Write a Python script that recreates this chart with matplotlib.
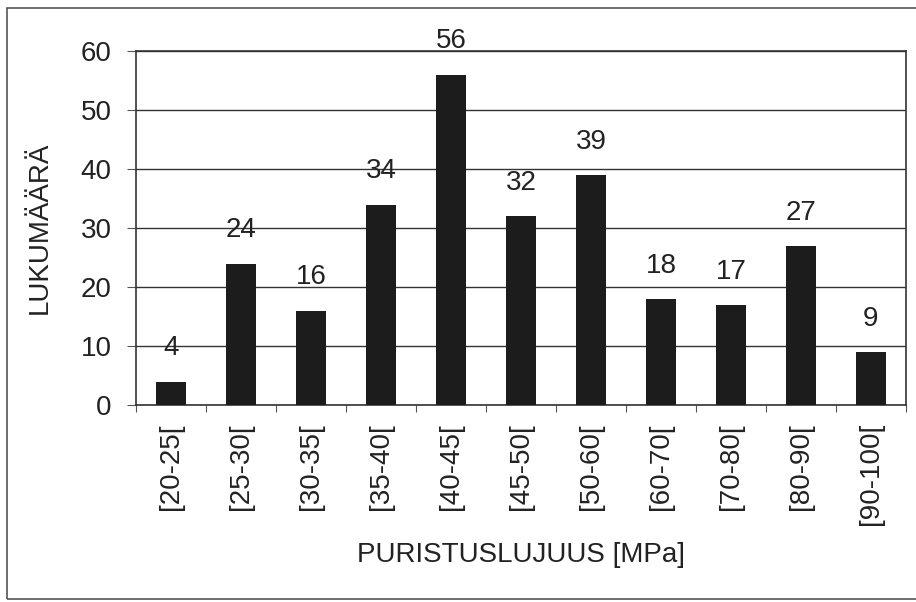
import matplotlib.pyplot as plt
from matplotlib.patches import Rectangle

luokat = ["[20-25[", "[25-30[", "[30-35[", "[35-40[", "[40-45[", "[45-50[",
          "[50-60[", "[60-70[", "[70-80[", "[80-90[", "[90-100["]
lukumaara = [4, 24, 16, 34, 56, 32, 39, 18, 17, 27, 9]

plt.rcParams["font.family"] = ["Liberation Sans", "DejaVu Sans"]

fig = plt.figure(figsize=(9.16, 6.02), dpi=100)
ax = fig.add_axes([0.1485, 0.327, 0.8405, 0.588])

x = range(len(luokat))
ax.bar(x, lukumaara, width=0.44, color="#1c1c1c", zorder=3)
for i, v in zip(x, lukumaara):
    ax.annotate(str(v), (i, v), xytext=(0, 24), textcoords="offset points",
                ha="center", va="center", fontsize=20, color="#222222")

ax.set_xlim(-0.5, len(luokat) - 0.5)
ax.set_ylim(0, 60)
ax.set_yticks(range(0, 61, 10))
ax.yaxis.grid(True, color="#333333", linewidth=1)
ax.set_axisbelow(True)

# ticks between categories, labels centred under bars
ax.set_xticks([i - 0.5 for i in range(len(luokat) + 1)], minor=False)
ax.set_xticklabels([])
ax.set_xticks(list(x), minor=True)
ax.set_xticklabels(luokat, minor=True, rotation=90, fontsize=20, color="#222222")
ax.tick_params(axis="x", which="minor", length=0, pad=13)
ax.tick_params(axis="x", which="major", length=5, color="#555555")
ax.tick_params(axis="y", labelsize=20, labelcolor="#222222", length=6.5,
               color="#555555", pad=11)

for s in ax.spines.values():
    s.set_color("#333333")
    s.set_linewidth(1.2)

ax.set_ylabel("LUKUMÄÄRÄ", fontsize=20, color="#222222", labelpad=20)
ax.set_xlabel("PURISTUSLUJUUS [MPa]", fontsize=20, color="#222222", labelpad=12)

fig.patches.append(Rectangle((7 / 916, 3 / 602), 920 / 916, 591 / 602,
                             transform=fig.transFigure, fill=False,
                             edgecolor="#555555", linewidth=1.2))

fig.savefig("out.png", dpi=100)
